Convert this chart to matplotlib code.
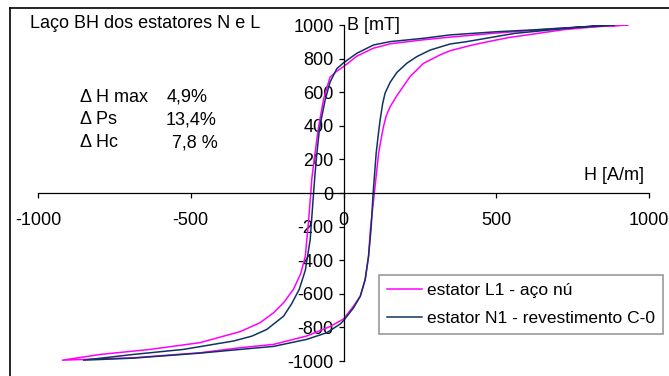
import matplotlib.pyplot as plt
from matplotlib.lines import Line2D

# laco BH - estator L1 (aco nu), percorrido a partir de +Hmax
H_L1 = [930, 720, 500, 350, 262, 153, 98, 44, 0, -22, -44, -65, -82, -93, -104, -107,
        -115, -125, -140, -164, -196, -229, -273, -338, -470, -633, -796, -920,
        -690, -470, -338, -229, -120, -44, 0, 33, 55, 71, 82, 88, 101,
        115, 124, 131, 140, 153, 175, 218, 262, 316, 349, 420, 471, 540, 636, 720, 829, 930]
B_L1 = [1000, 982, 952, 928, 912, 888, 862, 815, 752, 725, 690, 560, 390, 240, 80, 0,
        -178, -376, -480, -574, -653, -713, -772, -825, -891, -931, -961, -995,
        -981, -951, -921, -901, -851, -795, -750, -673, -614, -515, -376, -218, 0,
        238, 330, 396, 460, 515, 580, 693, 772, 822, 847, 880, 900, 925, 950, 972, 990, 1000]

# laco BH - estator N1 (revestimento C-0)
H_N1 = [885, 775, 611, 502, 349, 262, 153, 98, 44, 0, -22, -44, -60, -71, -79, -87, -93, -98,
        -109, -125, -145, -170, -196, -251, -300, -360, -524, -688, -851,
        -688, -469, -338, -229, -120, -55, -11, 0, 33, 55, 71, 82, 90, 97,
        107, 114, 120, 128, 136, 153, 175, 207, 240, 284, 349, 400, 560, 775, 885]
B_N1 = [1000, 988, 970, 960, 941, 921, 901, 881, 832, 775, 740, 660, 554, 455, 376, 238, 119, 0,
        -277, -460, -574, -660, -733, -812, -852, -881, -931, -961, -995,
        -983, -953, -931, -913, -871, -832, -780, -760, -683, -614, -515, -376, -218, 0,
        238, 350, 436, 530, 594, 660, 718, 772, 812, 851, 887, 900, 950, 988, 1000]

x_ticks = [-1000, -500, 0, 500, 1000]
y_ticks = [-1000, -800, -600, -400, -200, 0, 200, 400, 600, 800, 1000]

W, Hpx = 669, 376
plt.rcParams['font.family'] = ['Liberation Sans', 'DejaVu Sans']
plt.rcParams['axes.unicode_minus'] = False
fs = 13

fig = plt.figure(figsize=(W / 100, Hpx / 100), dpi=100)
ax = fig.add_axes([38 / W, (Hpx - 361) / Hpx, (649 - 38) / W, (361 - 25) / Hpx])
ax.set_xlim(-1000, 1000)
ax.set_ylim(-1000, 1000)
ax.patch.set_visible(False)

ax.plot(H_L1, B_L1, color='#ff00ff', lw=1.1, label='estator L1 - aço nú')
ax.plot(H_N1, B_N1, color='#0f3461', lw=1.1, label='estator N1 - revestimento C-0')

for s in ['top', 'right']:
    ax.spines[s].set_visible(False)
ax.spines['left'].set_position('zero')
ax.spines['bottom'].set_position('zero')
ax.spines['left'].set_linewidth(0.9)
ax.spines['bottom'].set_linewidth(0.9)
ax.set_xticks(x_ticks)
ax.set_yticks(y_ticks)
ax.tick_params(axis='both', direction='out', length=3.5, width=0.9, labelsize=fs)
ax.tick_params(axis='x', pad=10)
ax.tick_params(axis='y', pad=3.5)

ax.text(12, 1000, 'B [mT]', fontsize=fs, ha='left', va='center')
ax.text(982, 107, 'H [A/m]', fontsize=fs, ha='right', va='center')

def px(x, y):
    return x / W, 1 - y / Hpx

fig.text(*px(30, 23), 'Laço BH dos estatores N e L', fontsize=fs, va='center')
rows = [('Δ H max', '4,9%', 167), ('Δ Ps', '13,4%', 166), ('Δ Hc', '7,8 %', 172)]
for i, (a, b, xb) in enumerate(rows):
    fig.text(*px(80, 97 + 23 * i), a, fontsize=fs, va='center')
    fig.text(*px(xb, 97 + 23 * i), b, fontsize=fs, va='center')

leg = ax.legend(loc='upper left', bbox_to_anchor=px(379, 275), bbox_transform=fig.transFigure,
                fontsize=12.5, frameon=True, fancybox=False, borderpad=0.45,
                handlelength=2.0, handletextpad=0.3, labelspacing=0.75, borderaxespad=0)
leg.get_frame().set_edgecolor('#808080')
leg.get_frame().set_linewidth(1.2)

# moldura do grafico
fig.add_artist(Line2D([10 / W, 10 / W], [1 - 8 / Hpx, 0], transform=fig.transFigure, color='black', lw=1.2))
fig.add_artist(Line2D([10 / W, 1], [1 - 8 / Hpx, 1 - 8 / Hpx], transform=fig.transFigure, color='black', lw=1.2))

fig.savefig('out.png', dpi=100)
